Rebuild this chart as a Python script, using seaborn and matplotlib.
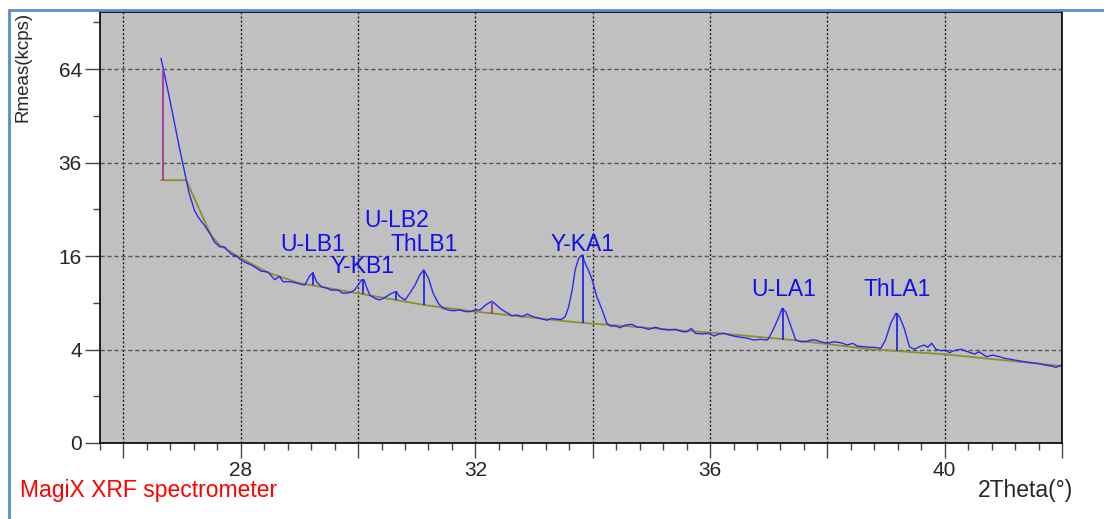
import matplotlib
matplotlib.use("Agg")
import matplotlib.pyplot as plt
from matplotlib.lines import Line2D
import numpy as np
import seaborn as sns

sns.set_style("ticks")
plt.rcParams["font.family"] = ["Liberation Sans", "DejaVu Sans"]

two_theta = [26.64, 26.70, 26.78, 26.87, 26.95, 27.01, 27.07, 27.12, 27.21, 27.27,
             27.38, 27.49, 27.55, 27.64, 27.72, 27.84, 27.92, 28.01, 28.06, 28.18,
             28.35, 28.46, 28.58, 28.66, 28.72, 28.86, 29.00, 29.09, 29.17, 29.23,
             29.29, 29.37, 29.46, 29.54, 29.66, 29.74, 29.86, 29.94, 30.00, 30.06,
             30.10, 30.14, 30.20, 30.28, 30.37, 30.48, 30.57, 30.65, 30.71, 30.80,
             30.88, 30.97, 31.05, 31.12, 31.20, 31.28, 31.37, 31.45, 31.54, 31.62,
             31.74, 31.82, 31.91, 32.00, 32.08, 32.17, 32.28, 32.33, 32.42, 32.50,
             32.56, 32.62, 32.71, 32.79, 32.88, 32.99, 33.10, 33.22, 33.30, 33.39,
             33.47, 33.53, 33.59, 33.65, 33.70, 33.76, 33.82, 33.87, 33.93, 33.99,
             34.07, 34.16, 34.24, 34.30, 34.39, 34.47, 34.56, 34.67, 34.76, 34.84,
             34.95, 35.07, 35.18, 35.30, 35.41, 35.52, 35.61, 35.68, 35.75, 35.87,
             35.98, 36.07, 36.15, 36.24, 36.35, 36.46, 36.64, 36.75, 36.86, 36.98,
             37.06, 37.15, 37.23, 37.29, 37.38, 37.46, 37.55, 37.63, 37.72, 37.80,
             37.89, 38.00, 38.11, 38.23, 38.34, 38.43, 38.51, 38.63, 38.71, 38.80,
             38.91, 38.99, 39.08, 39.17, 39.23, 39.31, 39.40, 39.48, 39.57, 39.65,
             39.71, 39.78, 39.85, 39.94, 40.02, 40.08, 40.16, 40.28, 40.39, 40.51,
             40.59, 40.71, 40.82, 40.93, 41.02, 41.13, 41.25, 41.36, 41.48, 41.59,
             41.71, 41.82, 41.90, 41.99]
rmeas = [67.7, 62.0, 54.9, 46.8, 40.2, 35.8, 31.6, 28.5, 24.8, 23.4,
         21.7, 19.8, 18.5, 17.6, 17.6, 16.3, 16.0, 15.3, 15.0, 14.5,
         13.5, 13.4, 12.2, 12.7, 11.9, 11.9, 11.6, 11.4, 12.7, 13.3,
         11.9, 11.2, 11.0, 10.7, 10.7, 10.25, 10.35, 10.7, 11.4, 12.2,
         12.2, 11.2, 10.0, 9.6, 9.36, 9.8, 10.25, 10.5, 9.8, 9.36,
         10.25, 11.4, 12.9, 13.7, 12.4, 10.25, 8.9, 8.3, 8.1, 8.0,
         8.1, 7.9, 7.9, 8.1, 8.1, 8.7, 9.2, 8.9, 8.3, 7.9,
         7.7, 7.4, 7.5, 7.3, 7.6, 7.3, 7.1, 6.9, 7.1, 7.0,
         7.0, 7.3, 8.5, 10.7, 13.7, 15.6, 16.2, 14.8, 13.6, 12.2,
         9.8, 8.1, 6.55, 6.26, 6.26, 6.08, 6.37, 6.44, 6.13, 6.13,
         5.91, 6.13, 5.91, 5.84, 5.91, 5.67, 5.67, 6.02, 5.5, 5.44,
         5.5, 5.24, 5.44, 5.5, 5.3, 5.17, 5.02, 4.85, 4.92, 4.85,
         5.67, 6.92, 8.3, 7.9, 6.19, 4.85, 4.69, 4.69, 4.85, 4.85,
         4.69, 4.55, 4.69, 4.6, 4.39, 4.55, 4.3, 4.24, 4.2, 4.19,
         4.1, 4.85, 6.55, 7.7, 7.3, 6.02, 4.24, 4.02, 4.24, 4.39,
         4.19, 4.55, 4.02, 3.9, 3.96, 3.73, 3.9, 4.02, 3.81, 3.62,
         3.81, 3.41, 3.54, 3.41, 3.28, 3.2, 3.1, 3.03, 2.95, 2.9,
         2.78, 2.71, 2.62, 2.78]

# fitted background
bg_theta = [26.64, 27.07, 27.49, 27.64, 28.01, 28.46, 29.00, 30.00, 31.14, 32.00,
            33.79, 36.18, 37.50, 38.74, 40.00, 42.00]
bg_rate = [31.6, 31.6, 19.8, 17.9, 15.6, 13.3, 11.7, 10.25, 8.7, 7.9,
           6.62, 5.5, 4.8, 4.02, 3.6, 2.71]

# identified lines
peak_names = ["U-LB1", "Y-KB1", "U-LB2", "ThLB1", "Y-KA1", "U-LA1", "ThLA1"]
peak_theta = [29.23, 30.08, 30.65, 31.12, 33.83, 37.25, 39.19]
peak_bg = [11.4, 10.1, 9.4, 8.7, 6.6, 4.85, 3.9]
peak_top = [13.3, 12.2, 10.5, 13.7, 16.2, 8.3, 7.7]
label_rate = [18.1, 14.2, 22.6, 18.1, 18.1, 10.85, 10.85]

# unlabelled markers
aux_theta = [26.67, 32.28]
aux_bg = [31.6, 7.6]
aux_top = [63.7, 9.2]

fig = plt.figure(figsize=(11.04, 5.19), dpi=100)
ax = fig.add_axes([100 / 1104, 76 / 519, 962 / 1104, 431 / 519])
ax.set_facecolor("#c0c0c0")
ax.set_yscale("function", functions=(lambda v: np.sqrt(np.clip(v, 0, None)),
                                     lambda v: np.square(v)))

sns.lineplot(x=bg_theta, y=bg_rate, ax=ax, color="#8f8f2a", lw=1.3,
             sort=False, estimator=None)
sns.lineplot(x=two_theta, y=rmeas, ax=ax, color="#2a2af5", lw=1.0,
             sort=False, estimator=None)
ax.vlines(peak_theta, peak_bg, peak_top, colors="#1a1af0", lw=1.2)
ax.vlines(aux_theta, aux_bg, aux_top, colors="#a8329a", lw=1.3)

for name, x, y in zip(peak_names, peak_theta, label_rate):
    ax.text(x, y, name, ha="center", va="center", color="#1010ee", fontsize=16.5)

ax.set_xlim(25.6, 42.0)
ax.set_ylim(0, 85)

xt = np.arange(26, 43, 2)
ax.set_xticks(xt)
ax.set_xticklabels([str(v) if v % 4 == 0 else "" for v in xt])
ax.set_xticks(np.arange(25.6, 42.01, 0.4), minor=True)
ax.set_yticks([0, 4, 16, 36, 64])
ax.set_yticklabels(["0", "4", "16", "36", "64"])
ax.set_yticks([1, 9, 25, 49, 81], minor=True)

ax.tick_params(which="major", length=11, width=1, color="#444444",
               labelsize=15, pad=2)
ax.tick_params(which="minor", length=5, width=1, color="#444444")

ax.grid(axis="x", which="major", color="#222222", lw=1, linestyle=(0, (1.5, 1.5)))
ax.grid(axis="y", which="major", color="#555555", lw=1, linestyle=(0, (3, 2)))
for s in ax.spines.values():
    s.set_color("black")
    s.set_linewidth(1.2)

ax.set_xlabel("")
ax.set_ylabel("")
fig.text(23 / 1104, 507 / 519, "Rmeas(kcps)", rotation=90, ha="center", va="top",
         fontsize=13.5)
fig.text(20 / 1104, 22 / 519, "MagiX XRF spectrometer", ha="left", va="baseline",
         color="#ff0000", fontsize=16.5)
fig.text(978 / 1104, 22 / 519, "2Theta(°)", ha="left", va="baseline", fontsize=16.5)

# frame of the screenshot
fig.add_artist(Line2D([9 / 1104, 9 / 1104], [0, 509 / 519], color="#5b8bd0", lw=2))
fig.add_artist(Line2D([9 / 1104, 1.0], [509 / 519, 509 / 519], color="#5b8bd0", lw=2))

fig.savefig("out.png", dpi=100)
